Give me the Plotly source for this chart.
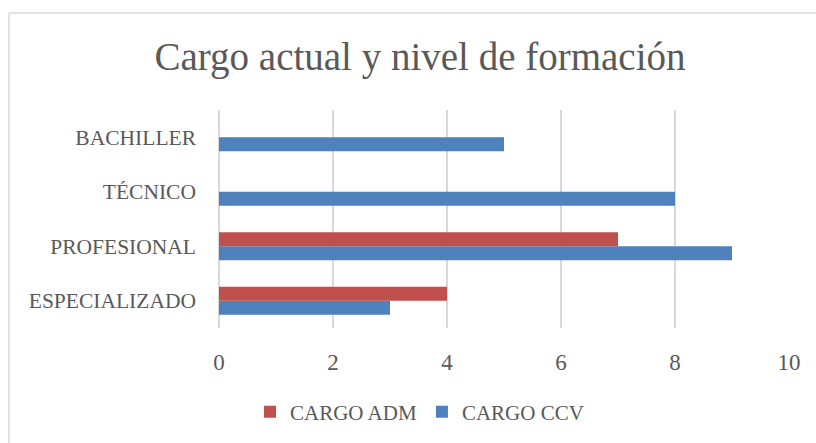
import plotly.graph_objects as go

# Education levels (bottom to top) and counts per position type
categories = ["ESPECIALIZADO", "PROFESIONAL", "TÉCNICO", "BACHILLER"]
cargo_adm = [4, 7, 0, 0]
cargo_ccv = [3, 9, 8, 5]
x_ticks = [0, 2, 4, 6, 8, 10]

RED = "#C0504D"
BLUE = "#4F81BD"
TEXT = "#595959"
GRID = "#D9D9D9"
FONT = "Liberation Serif"

W, H = 816, 443
L, R, T, B = 219, 27, 110, 115
pw, ph = W - L - R, H - T - B

fig = go.Figure()
# CCV first so it sits below ADM inside each category group
fig.add_trace(go.Bar(y=categories, x=cargo_ccv, name="CARGO CCV", orientation="h",
                     marker=dict(color=BLUE, line=dict(width=0)), legendrank=2))
fig.add_trace(go.Bar(y=categories, x=cargo_adm, name="CARGO ADM", orientation="h",
                     marker=dict(color=RED, line=dict(width=0)), legendrank=1))


def px_x(x):
    return (x - L) / pw


def px_y(y):
    return (H - B - y) / ph


fig.update_layout(
    width=W, height=H,
    margin=dict(l=L, r=R, t=T, b=B, autoexpand=False),
    paper_bgcolor="white", plot_bgcolor="white",
    barmode="group", bargap=0.486, bargroupgap=0,
    font=dict(family=FONT, color=TEXT, size=20),
    title=dict(text="Cargo actual y nivel de formación", x=px_x(420), xref="paper",
               xanchor="center", y=1 - 56 / H, yanchor="middle",
               font=dict(family=FONT, size=39, color=TEXT)),
    xaxis=dict(range=[0, 10], tickvals=x_ticks, showgrid=True, gridcolor=GRID,
               gridwidth=1.5, zeroline=True, zerolinecolor=GRID, zerolinewidth=1.5,
               showline=False, ticks="", tickfont=dict(size=23, color=TEXT),
               ticklabelstandoff=18, fixedrange=True),
    yaxis=dict(categoryorder="array", categoryarray=categories, showgrid=False,
               zeroline=False, showline=False, ticks="", ticklabelstandoff=22,
               tickfont=dict(size=21.5, color=TEXT), fixedrange=True),
    legend=dict(orientation="h", x=px_x(250), xanchor="left", y=px_y(412),
                yanchor="middle", font=dict(size=21, color=TEXT),
                itemwidth=30, tracegroupgap=0, bgcolor="rgba(0,0,0,0)"),
    showlegend=True,
    shapes=[
        dict(type="line", xref="paper", yref="paper", x0=px_x(9), x1=px_x(W + 5),
             y0=px_y(13), y1=px_y(13), line=dict(color=GRID, width=1.5)),
        dict(type="line", xref="paper", yref="paper", x0=px_x(9), x1=px_x(9),
             y0=px_y(13), y1=px_y(H + 5), line=dict(color=GRID, width=1.5)),
    ],
)

fig.write_html("out.html")
